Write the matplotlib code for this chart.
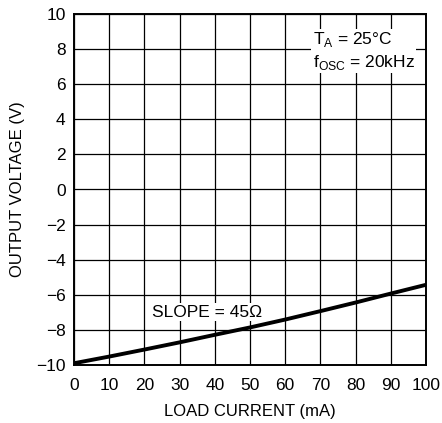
import matplotlib as mpl
mpl.use('Agg')
import matplotlib.pyplot as plt
import numpy as np

# output voltage vs load current
load_ma = [0, 10, 20, 30, 40, 50, 60, 70, 80, 90, 100]
vout = [-9.9, -9.52, -9.12, -8.71, -8.28, -7.86, -7.41, -6.93, -6.44, -5.93, -5.43]

plt.rcParams['font.family'] = ['Liberation Sans', 'DejaVu Sans']
plt.rcParams['mathtext.fontset'] = 'custom'
plt.rcParams['mathtext.rm'] = 'Liberation Sans'

fig = plt.figure(figsize=(4.42, 4.23), dpi=100)
ax = fig.add_axes([74 / 442, 1 - 365 / 423, 352 / 442, 351 / 423])

ax.plot(load_ma, vout, color='black', lw=2.8, solid_capstyle='butt')

ax.set_xlim(0, 100)
ax.set_ylim(-10, 10)
ax.set_xticks(range(0, 101, 10))
ax.set_yticks(range(-10, 11, 2))
ax.set_yticklabels([str(v).replace('-', '\u2212') for v in range(-10, 11, 2)])
ax.tick_params(length=0, labelsize=12.5)
ax.tick_params(axis='x', pad=9)
ax.tick_params(axis='y', pad=6)
ax.grid(True, color='black', lw=0.9)
for s in ax.spines.values():
    s.set_linewidth(1.4)

ax.set_xlabel('LOAD CURRENT (mA)', fontsize=12, labelpad=8)
ax.set_ylabel('OUTPUT VOLTAGE (V)', fontsize=12, labelpad=8)

box = dict(facecolor='white', edgecolor='none', pad=1)
ax.text(67.8, 6.7, 'T$_{\\mathregular{A}}$ = 25°C\nf$_{\\mathregular{OSC}}$ = 20kHz',
        fontsize=12.5, va='bottom', ha='left', linespacing=1.25, bbox=box)
ax.text(22.2, -7.0, 'SLOPE = 45\u03a9', fontsize=12.5, va='center', ha='left', bbox=box)

fig.savefig('out.png', dpi=100)
